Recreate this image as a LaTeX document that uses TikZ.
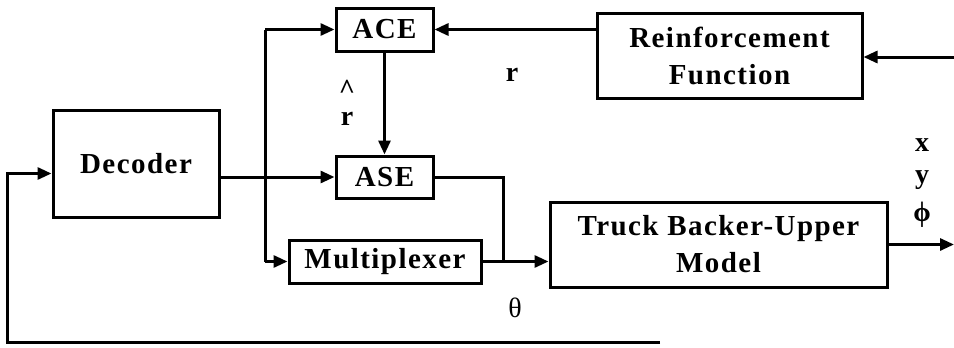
\documentclass[tikz,border=0pt]{standalone}
\usepackage{fontspec}
\setmainfont{Liberation Serif}[LetterSpace=5]
\usetikzlibrary{arrows.meta}
\begin{document}
\begin{tikzpicture}[x=1pt,y=-1pt,
  blk/.style={draw,line width=3pt,inner sep=0pt,align=center,
    font=\fontsize{29}{37}\selectfont\bfseries},
  wire/.style={line width=3pt},
  arr/.style={wire,-{Triangle[length=14pt,width=12pt]}},
  lbl/.style={inner sep=0pt,font=\fontsize{28}{27}\selectfont\bfseries,align=center}]
\useasboundingbox (0,0) rectangle (954,348);
\node[blk,minimum width=97pt,minimum height=43pt] (ACE) at (384.5,29.5) {ACE};
\node[blk,minimum width=97pt,minimum height=42pt] (ASE) at (384.5,177) {ASE};
\node[blk,minimum width=166pt,minimum height=107pt] (Dec) at (136,163.5) {Decoder};
\node[blk,minimum width=192pt,minimum height=43pt] (Mux) at (385,261.5) {Multiplexer};
\node[blk,minimum width=337pt,minimum height=85pt] (Truck) at (718.5,244.5) {Truck Backer-Upper\\Model};
\node[blk,minimum width=265pt,minimum height=85pt] (RF) at (729.5,55.5) {Reinforcement\\Function};
% coordinates
\coordinate (bt) at (265,29.5);
\coordinate (bb) at (265,261.5);
\coordinate (j) at (503,261.5);
\coordinate (rfin) at (954,57);
\coordinate (out) at (954,244.5);
\coordinate (fb) at (660,342);
\coordinate (fbl) at (7,342);
% connectors
\draw[wire] (bt) -- (bb);
\draw[arr] (bt) -- (ACE.west);
\draw[arr] (bb) -- (Mux.west);
\draw[arr] (Dec.east |- ASE.west) -- (ASE.west);
\draw[arr] (ACE) -- (ASE);
\draw[arr] (RF.west |- ACE.east) -- (ACE.east);
\draw[arr] (rfin) -- (RF.east |- rfin);
\draw[wire] (ASE.east) -| (j);
\draw[arr] (Mux.east) -- (Truck.west |- j);
\draw[arr] (Truck.east) -- (out);
\draw[arr] (fb) -- (fbl) |- ([yshift=-10pt]Dec.west);
% labels
\node[lbl] (rhat) at (347,103) {\^{}\\r};
\node[lbl] (r) at (512,75) {r};
\node[lbl,font=\fontsize{28}{27}\selectfont] (theta) at (515,308) {θ};
\node[lbl] (lx) at (922,145) {x};
\node[lbl] (ly) at (922,180) {y};
\node[lbl] (lphi) at (922,215) {ϕ};
\end{tikzpicture}
\end{document}
